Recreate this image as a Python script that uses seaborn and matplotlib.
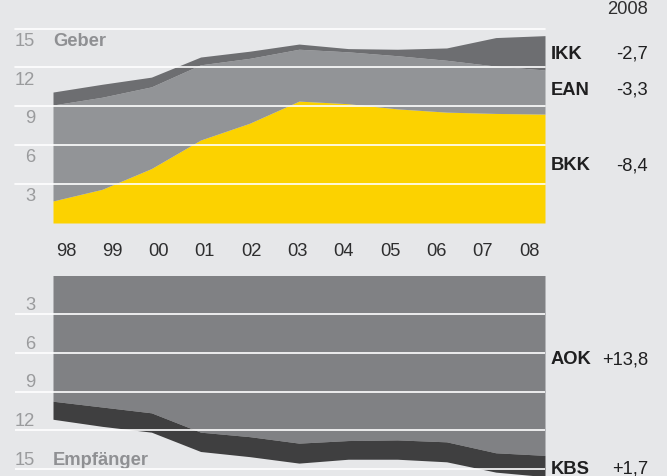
import matplotlib
matplotlib.use('Agg')
import matplotlib.pyplot as plt
import seaborn as sns
import pandas as pd

sns.set_theme(style='white')
plt.rcParams['font.family'] = ['Liberation Sans', 'DejaVu Sans']

years = list(range(1998, 2009))
year_labels = ['98', '99', '00', '01', '02', '03', '04', '05', '06', '07', '08']

# Geber (Mrd. Euro)
bkk = [1.7, 2.6, 4.2, 6.4, 7.7, 9.4, 9.2, 8.8, 8.55, 8.45, 8.4]
ean = [7.4, 7.1, 6.3, 5.8, 5.0, 4.0, 4.0, 4.1, 4.0, 3.65, 3.4]
ikk = [1.0, 1.0, 0.75, 0.6, 0.55, 0.4, 0.25, 0.5, 0.95, 2.2, 2.65]

# Empfänger (Mrd. Euro)
aok = [9.75, 10.2, 10.65, 12.15, 12.5, 13.0, 12.8, 12.75, 12.9, 13.75, 13.95]
kbs = [1.4, 1.5, 1.5, 1.5, 1.55, 1.55, 1.45, 1.5, 1.55, 1.5, 1.65]

geber = pd.DataFrame({'BKK': bkk, 'EAN': ean, 'IKK': ikk}, index=years)
empf = pd.DataFrame({'AOK': aok, 'KBS': kbs}, index=years)

right_top = [('IKK', '-2,7', 13.1), ('EAN', '-3,3', 10.3), ('BKK', '-8,4', 4.5)]
right_bot = [('AOK', '+13,8', 6.45), ('KBS', '+1,7', 14.95)]

BG = '#e6e7e9'
GRID = '#ffffff'
TICK = '#9a9b9d'
LABEL = '#8f9093'
DARK = '#1f1f20'
FS = 13.2

fig = plt.figure(figsize=(6.67, 4.77), dpi=100, facecolor=BG)
ax1 = fig.add_axes([15 / 667, 1 - 224 / 477, 530 / 667, 194.5 / 477])
ax2 = fig.add_axes([15 / 667, 0, 530 / 667, 1 - 276.5 / 477])

xmin = 1998 - 38 / 49.2
label_x = [1998 + (66 - 53) / 49.2 + i * 46.3 / 49.2 for i in range(len(year_labels))]

for ax in (ax1, ax2):
    ax.set_facecolor(BG)
    for s in ax.spines.values():
        s.set_visible(False)
    ax.set_xticks([])
    ax.set_yticks([])
    ax.set_xlim(xmin, 2008)

# top panel
ax1.stackplot(geber.index, geber['BKK'], geber['EAN'], geber['IKK'],
              colors=['#fcd200', '#929497', '#6d6e71'], linewidth=0)
ax1.set_ylim(0, 15)
for v in [3, 6, 9, 12, 15]:
    ax1.axhline(v, color=GRID, lw=1.2, zorder=5, clip_on=False)
    ax1.text(xmin + 20 / 49.2, v - 0.9, str(v), ha='right', va='center',
             fontsize=FS, color=TICK)
ax1.text(1998, 14.05, 'Geber', ha='left', va='center', fontsize=FS,
         fontweight='bold', color=LABEL)
for x, lab in zip(label_x, year_labels):
    ax1.text(x, -2.1, lab, ha='center', va='center', fontsize=FS,
             color='#2e2e2f', clip_on=False)

# bottom panel
ax2.stackplot(empf.index, empf['AOK'], empf['KBS'],
              colors=['#808184', '#3f3f40'], linewidth=0)
ax2.set_ylim(15.55, 0)
for v in [3, 6, 9, 12, 15]:
    ax2.axhline(v, color=GRID, lw=1.2, zorder=5)
    ax2.text(xmin + 20 / 49.2, v - 0.75, str(v), ha='right', va='center',
             fontsize=FS, color=TICK)
ax2.text(1998, 14.25, 'Empfänger', ha='left', va='center', fontsize=FS,
         fontweight='bold', color=LABEL)

# right side labels
fig.text(648 / 667, 1 - 9 / 477, '2008', ha='right', va='center',
         fontsize=FS, color='#2e2e2f')
for name, val, y in right_top:
    ax1.text(2008 + 6 / 49.2, y, name, ha='left', va='center', fontsize=FS,
             fontweight='bold', color=DARK, clip_on=False)
    ax1.text(2008 + 103 / 49.2, y, val, ha='right', va='center', fontsize=FS,
             color=DARK, clip_on=False)
for name, val, y in right_bot:
    ax2.text(2008 + 6 / 49.2, y, name, ha='left', va='center', fontsize=FS,
             fontweight='bold', color=DARK, clip_on=False)
    ax2.text(2008 + 103 / 49.2, y, val, ha='right', va='center', fontsize=FS,
             color=DARK, clip_on=False)

fig.savefig('out.png', dpi=100, facecolor=BG)
